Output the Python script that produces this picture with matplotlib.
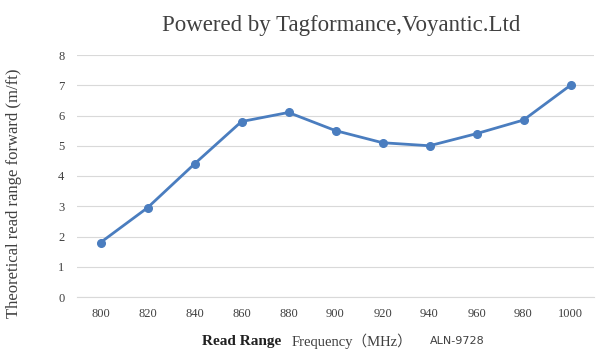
import matplotlib.pyplot as plt

freqs = ["800", "820", "840", "860", "880", "900", "920", "940", "960", "980", "1000"]
read_range = [1.8, 2.95, 4.4, 5.8, 6.1, 5.5, 5.1, 5.0, 5.4, 5.85, 7.0]
y_ticks = [0, 1, 2, 3, 4, 5, 6, 7, 8]

serif = ["Liberation Serif", "Noto Sans CJK SC", "DejaVu Serif"]
W, H = 608, 356

fig = plt.figure(figsize=(W / 100, H / 100), dpi=100)
ax = fig.add_axes([77 / W, 1 - 297 / H, (594 - 77) / W, (297 - 55) / H])

x = range(len(freqs))
ax.plot(x, read_range, color="#4A7DBF", linewidth=2.0, marker="o",
        markersize=5.5, zorder=3)

ax.set_xlim(-0.5, len(freqs) - 0.5)
ax.set_ylim(0, 8)
ax.set_yticks(y_ticks)
ax.set_xticks(list(x))
ax.set_xticklabels(freqs, family=serif, fontsize=9, color="#404040")
ax.set_yticklabels([str(v) for v in y_ticks], family=serif, fontsize=9,
                   color="#404040")
ax.tick_params(length=0, pad=9)
ax.tick_params(axis="x", pad=8)

ax.grid(axis="y", color="#D9D9D9", linewidth=0.8)
ax.set_axisbelow(True)
for s in ["top", "right", "left"]:
    ax.spines[s].set_visible(False)
ax.spines["bottom"].set_color("#D9D9D9")
ax.spines["bottom"].set_linewidth(0.8)

fig.text(341 / W, 1 - 25 / H, "Powered by Tagformance,Voyantic.Ltd",
         family=serif, fontsize=16.5, color="#404040", ha="center", va="center")

fig.text(14 / W, 1 - 193 / H, "Theoretical read range forward (m/ft)",
         family=serif, fontsize=12, color="#404040", rotation=90,
         ha="center", va="center")

# x axis title made of three pieces
fig.text(202 / W, 1 - 341 / H, "Read Range", family=serif, fontsize=11,
         fontweight="bold", color="#202020", ha="left", va="center")
fig.text(292 / W, 1 - 341 / H, "Frequency（MHz）", family=serif, fontsize=10.5,
         color="#404040", ha="left", va="center")
fig.text(430 / W, 1 - 341 / H, "ALN-9728", family="DejaVu Sans", fontsize=8,
         color="#404040", ha="left", va="center")

fig.savefig("out.png", dpi=100)
